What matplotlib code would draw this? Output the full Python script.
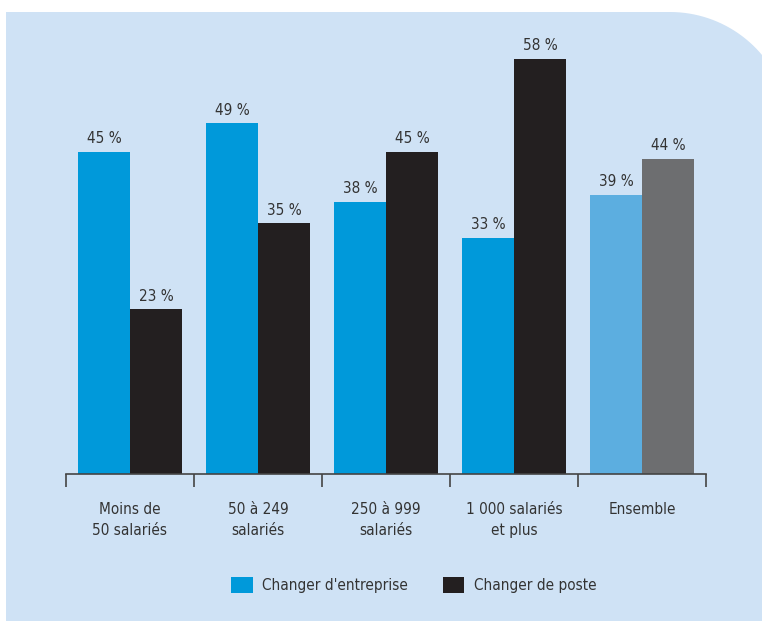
import numpy as np
import matplotlib
matplotlib.use("Agg")
import matplotlib.pyplot as plt
from matplotlib.patches import Polygon, Patch

categories = ["Moins de\n50 salariés", "50 à 249\nsalariés", "250 à 999\nsalariés",
              "1 000 salariés\net plus", "Ensemble"]
entreprise = [45, 49, 38, 33, 39]
poste = [23, 35, 45, 58, 44]
series_names = ["Changer d'entreprise", "Changer de poste"]

blue = "#0099da"
black = "#231f20"
blue_ens = "#5caee0"
grey_ens = "#6d6e70"
bg = "#cfe2f5"
txt = "#333333"

plt.rcParams['font.family'] = ['DejaVu Sans']
plt.rcParams['font.stretch'] = 'condensed'

W, H = 762, 621
fig = plt.figure(figsize=(W / 100, H / 100), dpi=100)
fig.patch.set_facecolor("white")

# background panel with rounded top-right corner (pixel coords, y up)
R = 120
top = H - 12
cx, cy = 670, top - R
ang = np.linspace(np.pi / 2, 0, 40)
arc = np.column_stack([cx + R * np.cos(ang), cy + R * np.sin(ang)])
pts = np.vstack([[[6, -20], [6, top]], arc, [[cx + R, -20]]])
pts = pts / [W, H]
fig.add_artist(Polygon(pts, closed=True, facecolor=bg, edgecolor="none",
                       transform=fig.transFigure, zorder=0))

ax = fig.add_axes([66 / W, 147 / H, 640 / W, 444 / H])
ax.set_facecolor("none")
ax.set_xlim(-0.5, 4.5)
ax.set_ylim(0, 62)

x = np.arange(len(categories))
bw = 0.406
c1 = [blue] * 4 + [blue_ens]
c2 = [black] * 4 + [grey_ens]
ax.bar(x - bw / 2, entreprise, bw, color=c1)
ax.bar(x + bw / 2, poste, bw, color=c2)

for xi, v in zip(x - bw / 2, entreprise):
    ax.annotate(f"{v} %", (xi, v), xytext=(0, 4), textcoords="offset points",
                ha="center", va="bottom", fontsize=11, color=txt)
for xi, v in zip(x + bw / 2, poste):
    ax.annotate(f"{v} %", (xi, v), xytext=(0, 4), textcoords="offset points",
                ha="center", va="bottom", fontsize=11, color=txt)

for i, lab in enumerate(categories):
    ax.annotate(lab, (i, 0), xytext=(0, -20), textcoords="offset points",
                ha="center", va="top", fontsize=11, color=txt, linespacing=1.5,
                annotation_clip=False)

for s in ["top", "left", "right"]:
    ax.spines[s].set_visible(False)
ax.spines["bottom"].set_color("#444444")
ax.spines["bottom"].set_linewidth(1.2)
ax.set_yticks([])
ax.set_xticks(np.arange(-0.5, 5, 1))
ax.set_xticklabels([])
ax.tick_params(axis="x", direction="out", length=9, width=1.2, color="#444444")

handles = [Patch(facecolor=blue), Patch(facecolor=black)]
fig.legend(handles, series_names, loc="center", bbox_to_anchor=(0.543, 0.058),
           ncol=2, frameon=False, fontsize=11, handlelength=1.4, handleheight=1.3,
           handletextpad=0.6, columnspacing=2.3, labelcolor=txt)

plt.savefig("out.png", dpi=100)
